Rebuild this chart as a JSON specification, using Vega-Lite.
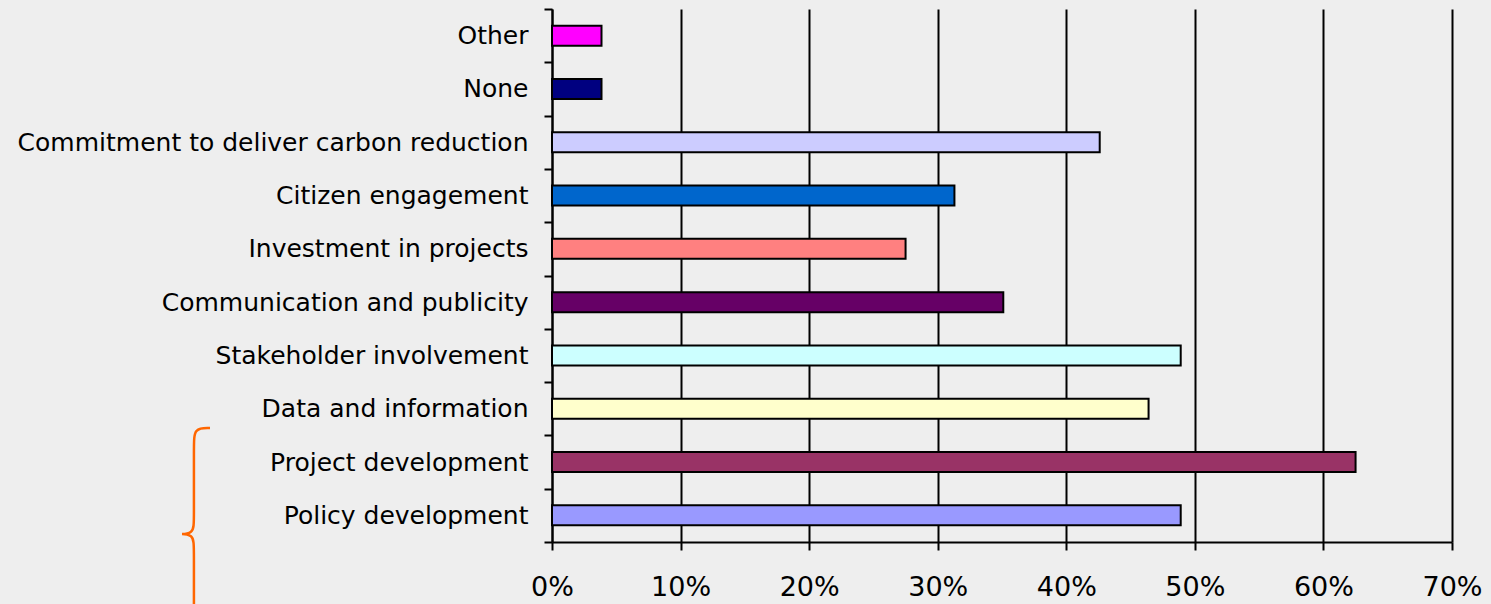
{
  "$schema": "https://vega.github.io/schema/vega-lite/v6.json",
  "width": 900,
  "height": 533,
  "autosize": "none",
  "padding": {"left": 552, "top": 9, "right": 39, "bottom": 62},
  "background": "#eeeeee",
  "config": {"view": {"stroke": null}},
  "datasets": {
    "bars": [
      {"category": "Other", "share": 0.0385},
      {"category": "None", "share": 0.0385},
      {"category": "Commitment to deliver carbon reduction", "share": 0.426},
      {"category": "Citizen engagement", "share": 0.313},
      {"category": "Investment in projects", "share": 0.275},
      {"category": "Communication and publicity", "share": 0.351},
      {"category": "Stakeholder involvement", "share": 0.489},
      {"category": "Data and information", "share": 0.464},
      {"category": "Project development", "share": 0.625},
      {"category": "Policy development", "share": 0.489}
    ],
    "brace": [
      {"o": 1, "bx": -0.266, "by": 7.86},
      {"o": 2, "bx": -0.2785, "by": 7.86},
      {"o": 3, "bx": -0.2785, "by": 8.18},
      {"o": 4, "bx": -0.2785, "by": 9.59},
      {"o": 5, "bx": -0.2785, "by": 9.85},
      {"o": 6, "bx": -0.2924, "by": 9.85},
      {"o": 7, "bx": -0.2785, "by": 9.85},
      {"o": 8, "bx": -0.2785, "by": 10.11},
      {"o": 9, "bx": -0.2785, "by": 11.84},
      {"o": 10, "bx": -0.2785, "by": 12.5}
    ]
  },
  "layer": [
    {
      "data": {"name": "bars"},
      "mark": {"type": "bar", "stroke": "#000000", "strokeWidth": 2, "height": {"band": 0.375}},
      "encoding": {
        "y": {
          "field": "category",
          "type": "nominal",
          "sort": null,
          "scale": {"paddingInner": 0, "paddingOuter": 0},
          "axis": {
            "title": null,
            "domainColor": "#000000",
            "domainWidth": 2,
            "tickColor": "#000000",
            "tickWidth": 2,
            "tickSize": 8,
            "tickBand": "extent",
            "labelFont": "DejaVu Sans",
            "labelFontSize": 25,
            "labelColor": "#000000",
            "labelPadding": 16,
            "labelLimit": 600
          }
        },
        "x": {
          "field": "share",
          "type": "quantitative",
          "scale": {"domain": [0, 0.7], "nice": false},
          "axis": {
            "title": null,
            "format": ".0%",
            "values": [0, 0.1, 0.2, 0.3, 0.4, 0.5, 0.6, 0.7],
            "grid": true,
            "gridColor": "#000000",
            "gridWidth": 2,
            "gridOpacity": 1,
            "domainColor": "#000000",
            "domainWidth": 2,
            "tickColor": "#000000",
            "tickWidth": 2,
            "tickSize": 8,
            "labelFont": "DejaVu Sans",
            "labelFontSize": 27,
            "labelColor": "#000000",
            "labelPadding": 24,
            "labelFlush": false
          }
        },
        "color": {
          "field": "category",
          "type": "nominal",
          "legend": null,
          "scale": {
            "domain": ["Other", "None", "Commitment to deliver carbon reduction", "Citizen engagement", "Investment in projects", "Communication and publicity", "Stakeholder involvement", "Data and information", "Project development", "Policy development"],
            "range": ["#ff00ff", "#000080", "#ccccff", "#0066cc", "#ff8080", "#660066", "#ccffff", "#ffffcc", "#993366", "#9999ff"]
          }
        }
      }
    },
    {
      "data": {"name": "brace"},
      "mark": {"type": "line", "interpolate": "basis", "color": "#ff6600", "strokeWidth": 2.5, "clip": false},
      "encoding": {
        "x": {"field": "bx", "type": "quantitative"},
        "y": {"field": "by", "type": "quantitative", "scale": {"domain": [0, 10], "reverse": true, "nice": false, "zero": false}, "axis": null},
        "order": {"field": "o", "type": "quantitative"}
      }
    }
  ],
  "resolve": {"scale": {"y": "independent"}, "axis": {"y": "independent"}}
}
